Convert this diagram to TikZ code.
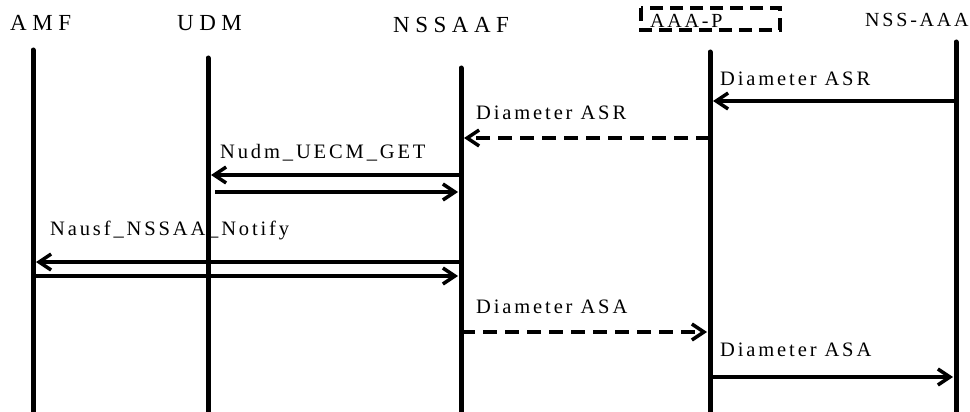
\documentclass[tikz,border=0pt]{standalone}
\usepackage{fontspec}
\setmainfont{Liberation Serif}
\newfontfamily\headfont[LetterSpace=24]{Liberation Serif}
\newfontfamily\msgfont[LetterSpace=14]{Liberation Serif}
\usetikzlibrary{arrows.meta}

\begin{document}
\begin{tikzpicture}
  [x=1pt,y=-1pt,every node/.style={inner sep=0pt,anchor=base west},
   head/.style={font=\headfont\fontsize{23}{23}\selectfont},
   minorhead/.style={font=\msgfont\fontsize{20}{20}\selectfont},
   note/.style={font=\msgfont\fontsize{20.5}{21}\selectfont},
   life/.style={line width=5pt,line cap=round},
   msg/.style={line width=3.5pt,-{Straight Barb[length=12pt,width=16pt]}},
   reply/.style={msg,dash pattern=on 14pt off 8pt}]
  \useasboundingbox (0,0) rectangle (970,412);

  % entities
  \node (amf)[head] at (10,31) {AMF};
  \node (udm)[head] at (177,31) {UDM};
  \node (nssaaf)[head] at (393,33) {NSSAAF};
  \node (aaap)[minorhead] at (650,28) {AAA-P};
  \node (nssaaa)[minorhead] at (865,27) {NSS-AAA};
  \draw[line width=3.5pt,dash pattern=on 13pt off 7pt] (641,8) rectangle (780,30);

  % lifelines
  \foreach \n/\x/\top in {amf/33/50,udm/208/58,nssaaf/461/68,aaap/710/52,nssaaa/956/42}
  {
    \coordinate (\n-top) at (\x,\top);
    \coordinate (\n-bot) at (\x,416);
    \draw[life] (\n-top) -- (\n-bot);
  }

  % message ends
  \foreach \m/\xa/\xb/\y in {asr1/956/713/101,asr2/710/464/138,get1/461/211/175,
                             get2/215/458/192,ntf1/461/36/262,ntf2/33/458/276,
                             asa1/461/707/332,asa2/710/953/377}
  {
    \coordinate (\m-from) at (\xa,\y);
    \coordinate (\m-to) at (\xb,\y);
  }

  \foreach \m in {asr1,get1,get2,ntf1,ntf2,asa2}
    \draw[msg] (\m-from) -- (\m-to);
  \foreach \m in {asr2,asa1}
    \draw[reply] (\m-from) -- (\m-to);

  % labels
  \node (asr1-text)[note] at (720,85) {Diameter ASR};
  \node (asr2-text)[note] at (476,120) {Diameter ASR};
  \node (get-text)[note] at (220,158) {Nudm\_UECM\_GET};
  \node (ntf-text)[note] at (50,235) {Nausf\_NSSAA\_Notify};
  \node (asa1-text)[note] at (476,313) {Diameter ASA};
  \node (asa2-text)[note] at (720,356) {Diameter ASA};

\end{tikzpicture}
\end{document}
